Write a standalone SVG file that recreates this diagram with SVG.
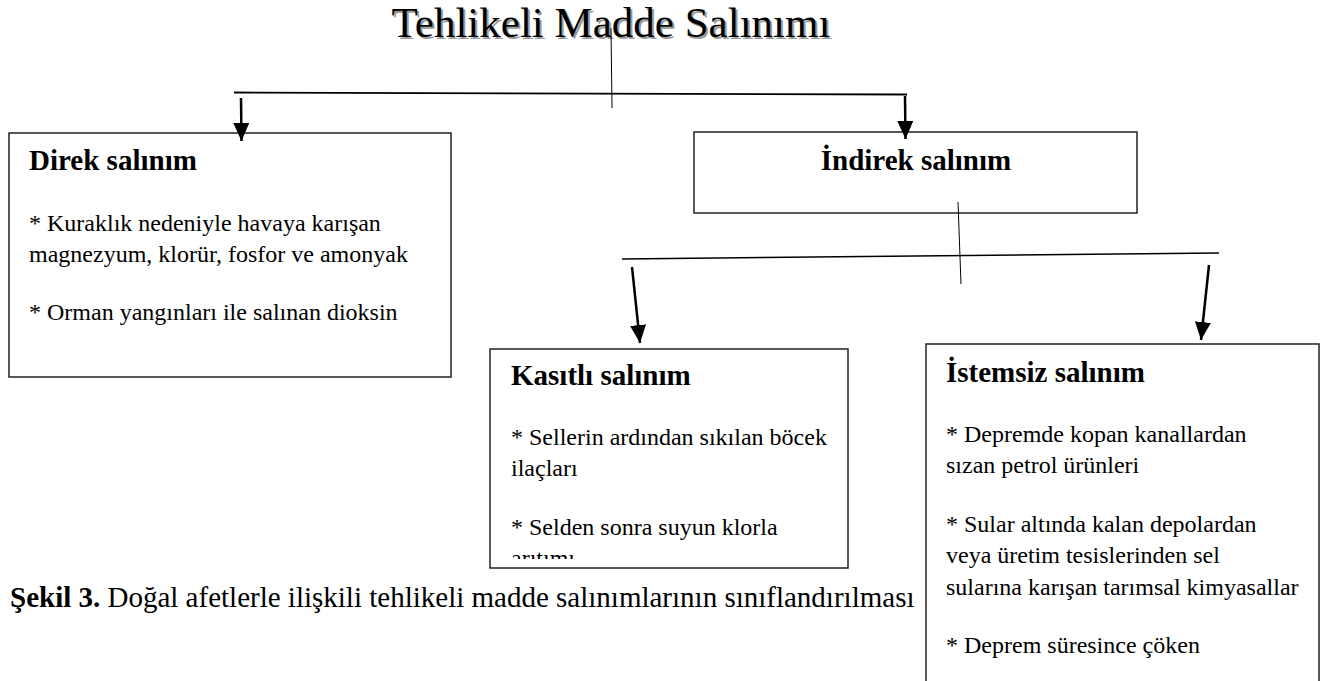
<svg xmlns="http://www.w3.org/2000/svg" width="1329" height="681" viewBox="0 0 1329 681">
<style>
.box{fill:#fff;stroke:#222;stroke-width:1.5}
.ln{stroke:#000;fill:none}
.arr{stroke:#000;stroke-width:2.5;fill:none;marker-end:url(#ah)}
</style>
<defs>
<marker id="ah" markerUnits="userSpaceOnUse" markerWidth="18" markerHeight="18" viewBox="0 0 18 16" refX="18" refY="8" orient="auto">
<path d="M0,0 L18,8 L0,16 Z" fill="#000"/>
</marker>
<clipPath id="cDirek"><rect x="10" y="134" width="440" height="235"/></clipPath>
<clipPath id="cKasitli"><rect x="491" y="350" width="356" height="209"/></clipPath>
<clipPath id="cIstemsiz"><rect x="927" y="345" width="392" height="328"/></clipPath>
</defs>
<rect width="1329" height="681" fill="#fff"/>

<g font-family="Liberation Serif, serif" fill="#000">
<g id="title" font-size="43">
<text x="613" y="39" text-anchor="middle" fill="#9a9a9a">Tehlikeli Madde Salınımı</text>
<text x="611" y="37" text-anchor="middle">Tehlikeli Madde Salınımı</text>
</g>

<g id="direk">
<rect class="box" x="9" y="133" width="442" height="244"/>
<text x="29" y="170" font-size="29" font-weight="bold">Direk salınım</text>
<g clip-path="url(#cDirek)" font-size="24">
<text x="29" y="231">* Kuraklık nedeniyle havaya karışan</text>
<text x="29" y="262">magnezyum, klorür, fosfor ve amonyak</text>
<text x="29" y="320">* Orman yangınları ile salınan dioksin</text>
</g>
</g>

<g id="indirek">
<rect class="box" x="694" y="132" width="443" height="81"/>
<text x="916" y="170" font-size="29" font-weight="bold" text-anchor="middle">İndirek salınım</text>
</g>

<g id="kasitli">
<rect class="box" x="490" y="349" width="358" height="219"/>
<text x="511" y="385" font-size="29" font-weight="bold">Kasıtlı salınım</text>
<g clip-path="url(#cKasitli)" font-size="24">
<text x="511" y="445">* Sellerin ardından sıkılan böcek</text>
<text x="511" y="476">ilaçları</text>
<text x="511" y="535">* Selden sonra suyun klorla</text>
<text x="511" y="566">arıtımı</text>
</g>
</g>

<g id="istemsiz">
<rect class="box" x="926" y="344" width="393" height="345"/>
<text x="946" y="382" font-size="29" font-weight="bold">İstemsiz salınım</text>
<g clip-path="url(#cIstemsiz)" font-size="24">
<text x="946" y="442">* Depremde kopan kanallardan</text>
<text x="946" y="473">sızan petrol ürünleri</text>
<text x="946" y="532">* Sular altında kalan depolardan</text>
<text x="946" y="563">veya üretim tesislerinden sel</text>
<text x="946" y="595">sularına karışan tarımsal kimyasallar</text>
<text x="946" y="653">* Deprem süresince çöken</text>
</g>
</g>

<g id="caption">
<text x="10" y="607" font-size="29"><tspan font-weight="bold">Şekil 3.</tspan> Doğal afetlerle ilişkili tehlikeli madde salınımlarının sınıflandırılması</text>
</g>
</g>

<g id="connectors">
<line class="ln" x1="611" y1="28" x2="612" y2="108" stroke-width="1"/>
<line class="ln" x1="234" y1="92.5" x2="907" y2="94.5" stroke-width="1.8"/>
<line class="arr" x1="241" y1="98" x2="241.5" y2="141"/>
<line class="arr" x1="905" y1="96" x2="905.5" y2="139"/>
<line class="ln" x1="958" y1="202" x2="961" y2="284" stroke-width="1"/>
<line class="ln" x1="622" y1="259" x2="1219" y2="253" stroke-width="1.5"/>
<line class="arr" x1="632" y1="267" x2="640" y2="343"/>
<line class="arr" x1="1209" y1="265" x2="1201" y2="340"/>
</g>
</svg>
